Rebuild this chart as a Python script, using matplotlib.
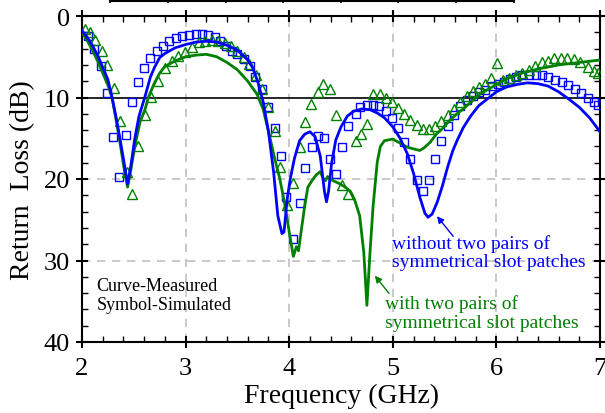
import matplotlib
matplotlib.use("Agg")
import matplotlib.pyplot as plt
from matplotlib.lines import Line2D
from matplotlib.ticker import MultipleLocator

plt.rcParams['font.family'] = ['Liberation Serif', 'DejaVu Serif']

# Measured (curves)
freq_meas_without = [2.00, 2.05, 2.10, 2.15, 2.20, 2.25, 2.29, 2.33, 2.37, 2.41, 2.44, 2.47, 2.51,
                     2.55, 2.61, 2.66, 2.70, 2.75, 2.80, 2.90, 3.00, 3.10, 3.20, 3.30, 3.40, 3.50,
                     3.60, 3.65, 3.70, 3.75, 3.80, 3.85, 3.89, 3.93, 3.95, 3.98, 4.01, 4.05, 4.10,
                     4.15, 4.20, 4.25, 4.30, 4.34, 4.36, 4.38, 4.41, 4.45, 4.50, 4.56, 4.62, 4.70,
                     4.78, 4.85, 4.92, 5.00, 5.07, 5.14, 5.20, 5.26, 5.31, 5.34, 5.38, 5.43, 5.48,
                     5.53, 5.58, 5.62, 5.68, 5.75, 5.83, 5.91, 6.00, 6.10, 6.20, 6.30, 6.40, 6.50,
                     6.60, 6.70, 6.80, 6.90, 7.00]
rl_meas_without = [1.8, 2.6, 3.6, 4.8, 6.3, 7.8, 10.0, 12.5, 15.3, 18.3, 20.6, 18.5, 15.0,
                   12.3, 9.8, 7.5, 6.3, 5.1, 4.6, 3.9, 3.5, 3.2, 3.1, 3.2, 3.6, 4.2,
                   5.4, 6.4, 8.2, 10.6, 14.2, 19.2, 24.5, 26.7, 26.5, 22.5, 20.0, 17.5, 15.3,
                   14.5, 14.2, 14.8, 17.2, 21.5, 22.8, 21.5, 18.0, 15.2, 13.6, 12.3, 11.7, 11.4,
                   11.5, 11.9, 12.5, 13.6, 15.0, 16.9, 19.3, 22.2, 24.2, 24.7, 24.3, 22.8, 20.8,
                   18.5, 16.5, 15.3, 13.7, 12.3, 11.0, 10.2, 9.3, 8.7, 8.4, 8.2, 8.3, 8.6,
                   9.3, 10.2, 11.2, 12.5, 14.2]

freq_meas_with = [2.00, 2.05, 2.10, 2.15, 2.20, 2.25, 2.29, 2.33, 2.37, 2.41, 2.44, 2.47, 2.51,
                  2.56, 2.61, 2.64, 2.70, 2.75, 2.80, 2.90, 3.00, 3.10, 3.20, 3.30, 3.40, 3.50,
                  3.60, 3.69, 3.75, 3.81, 3.86, 3.91, 3.96, 4.00, 4.04, 4.07, 4.09, 4.12, 4.15,
                  4.18, 4.22, 4.26, 4.30, 4.33, 4.35, 4.37, 4.39, 4.44, 4.49, 4.54, 4.59, 4.63,
                  4.68, 4.72, 4.75, 4.78, 4.81, 4.85, 4.88, 4.92, 5.00, 5.07, 5.14, 5.20, 5.26,
                  5.30, 5.36, 5.42, 5.48, 5.55, 5.62, 5.68, 5.76, 5.84, 5.92, 6.00, 6.10, 6.25,
                  6.40, 6.60, 6.80, 7.00]
rl_meas_with = [2.0, 3.0, 4.2, 5.5, 7.0, 8.5, 10.0, 12.8, 15.8, 19.0, 21.0, 19.0, 16.0,
                13.0, 11.4, 10.0, 8.2, 7.0, 6.2, 5.5, 5.0, 4.8, 4.7, 5.0, 5.7, 6.6,
                8.0, 9.6, 11.5, 14.7, 17.5, 20.0, 23.3, 26.5, 29.5, 28.3, 28.8, 26.0, 23.3,
                21.0, 20.2, 19.5, 19.1, 20.0, 20.2, 19.7, 20.0, 20.3, 20.6, 21.0, 21.5, 22.5,
                24.5, 29.0, 35.5, 29.0, 23.3, 17.9, 16.0, 15.3, 15.1, 15.6, 16.1, 16.3, 16.5,
                16.2, 15.5, 14.5, 13.8, 12.8, 12.0, 11.4, 10.5, 9.6, 9.0, 8.4, 7.7, 7.0,
                6.5, 6.0, 5.7, 5.4]

# Simulated (symbols)
freq_sim_without = [2.06, 2.12, 2.18, 2.24, 2.30, 2.36, 2.42, 2.48, 2.54, 2.60, 2.66, 2.72, 2.78,
                    2.84, 2.91, 2.97, 3.03, 3.10, 3.16, 3.22, 3.28, 3.33, 3.39, 3.45, 3.50, 3.56,
                    3.62, 3.67, 3.74, 3.80, 3.86, 3.92, 3.97, 4.04, 4.10, 4.15, 4.22, 4.28, 4.34,
                    4.39, 4.45, 4.51, 4.57, 4.64, 4.68, 4.75, 4.81, 4.87, 4.93, 4.99, 5.05, 5.11,
                    5.17, 5.23, 5.29, 5.35, 5.41, 5.47, 5.53, 5.59, 5.65, 5.72, 5.77, 5.83, 5.89,
                    5.96, 6.02, 6.07, 6.13, 6.19, 6.25, 6.31, 6.38, 6.44, 6.50, 6.57, 6.63, 6.69,
                    6.76, 6.82, 6.88, 6.94, 6.98]
rl_sim_without = [2.4, 4.0, 6.1, 9.5, 14.8, 19.8, 14.6, 10.6, 8.1, 6.4, 5.2, 4.3, 3.7,
                  3.1, 2.7, 2.4, 2.3, 2.2, 2.2, 2.3, 2.6, 3.1, 3.7, 4.3, 4.7, 5.3,
                  6.1, 7.5, 9.0, 11.2, 13.7, 17.2, 22.2, 27.4, 23.0, 18.7, 16.1, 14.7, 15.0,
                  17.5, 19.4, 16.1, 13.5, 12.0, 11.2, 10.9, 10.9, 11.1, 11.7, 12.5, 13.8, 15.4,
                  17.6, 20.1, 21.5, 20.1, 17.6, 15.3, 13.5, 12.1, 11.0, 10.3, 9.8, 9.3, 9.1,
                  8.6, 8.3, 8.1, 7.7, 7.5, 7.3, 7.2, 7.2, 7.3, 7.5, 7.8, 8.1, 8.5,
                  9.0, 9.5, 10.1, 10.6, 10.9]

freq_sim_with = [2.03, 2.08, 2.13, 2.19, 2.24, 2.31, 2.37, 2.43, 2.48, 2.54, 2.61, 2.67, 2.73,
                 2.80, 2.87, 2.93, 2.99, 3.06, 3.13, 3.19, 3.25, 3.31, 3.38, 3.44, 3.50, 3.56,
                 3.61, 3.68, 3.74, 3.80, 3.86, 3.91, 3.98, 4.04, 4.10, 4.15, 4.21, 4.28, 4.33,
                 4.39, 4.45, 4.51, 4.57, 4.64, 4.69, 4.75, 4.81, 4.88, 4.93, 4.99, 5.05, 5.11,
                 5.17, 5.23, 5.29, 5.35, 5.41, 5.47, 5.53, 5.59, 5.65, 5.72, 5.77, 5.83, 5.89,
                 5.95, 6.01, 6.06, 6.12, 6.19, 6.25, 6.31, 6.37, 6.44, 6.50, 6.56, 6.62, 6.68,
                 6.75, 6.81, 6.88, 6.94, 6.98]
rl_sim_with = [1.6, 2.0, 2.9, 4.3, 6.0, 8.8, 12.9, 19.2, 21.8, 15.9, 12.2, 9.9, 8.0,
               6.4, 5.5, 4.9, 4.4, 3.8, 3.2, 3.1, 3.0, 3.1, 3.3, 3.7, 4.3, 5.0,
               5.9, 7.2, 9.0, 11.2, 14.1, 18.5, 23.2, 20.5, 16.1, 13.0, 10.8, 9.3, 8.3,
               9.0, 12.1, 20.7, 21.8, 15.3, 14.5, 13.2, 9.6, 9.6, 10.0, 10.6, 11.3, 12.0,
               12.8, 13.4, 13.9, 13.9, 13.5, 12.9, 12.2, 11.4, 10.6, 9.8, 9.2, 8.7, 8.3,
               7.6, 5.8, 7.9, 7.6, 7.3, 7.0, 6.6, 6.1, 5.7, 5.5, 5.2, 5.1, 5.1,
               5.3, 5.7, 6.2, 6.8, 7.0]

x_ticks = [2, 3, 4, 5, 6, 7]
y_ticks = [0, 10, 20, 30, 40]

BLUE = '#0000ff'
GREEN = '#008000'

fig = plt.figure(figsize=(6.05, 4.14), dpi=100)
ax = fig.add_axes([82/605, 1-343/414, 518/605, 326/414])

# grid
for xv in [3, 4, 5, 6]:
    ax.axvline(xv, color='#c0c0c0', lw=1.2, ls=(0, (5, 4)), zorder=0)
for yv in [20, 30]:
    ax.axhline(yv, color='#c0c0c0', lw=1.2, ls=(0, (5, 4)), zorder=0)
ax.axhline(10, color='black', lw=1.2, zorder=1)

ax.plot(freq_sim_without, rl_sim_without, ls='none', marker='s', ms=5.4, mfc='none',
        mec=BLUE, mew=1.0, zorder=3)
ax.plot(freq_sim_with, rl_sim_with, ls='none', marker='^', ms=6.8, mfc='none',
        mec=GREEN, mew=1.0, zorder=3)
ax.plot(freq_meas_with, rl_meas_with, color=GREEN, lw=2.0, zorder=4)
ax.plot(freq_meas_without, rl_meas_without, color=BLUE, lw=2.0, zorder=5)

ax.set_xlim(2, 7)
ax.set_ylim(40, 0)
ax.set_xticks(x_ticks)
ax.set_yticks(y_ticks)
ax.xaxis.set_minor_locator(MultipleLocator(0.2))
ax.yaxis.set_minor_locator(MultipleLocator(2))
ax.tick_params(which='major', direction='inout', length=9, width=1.5, labelsize=19,
               top=True, right=True)
ax.tick_params(axis='x', which='major', pad=6)
ax.tick_params(axis='y', which='major', pad=4)
ax.tick_params(which='minor', direction='in', length=4, width=1.0, top=True, right=True)
for sp in ax.spines.values():
    sp.set_linewidth(1.5)

ax.set_xlabel('Frequency (GHz)', fontsize=20, labelpad=3)
ax.set_ylabel('Return  Loss (dB)', fontsize=20, labelpad=6)

ax.text(4.99, 29.0, 'without two pairs of\nsymmetrical slot patches', color=BLUE,
        fontsize=14, ha='left', va='center', linespacing=1.1)
ax.annotate('', xy=(5.41, 24.3), xytext=(5.60, 27.3),
            arrowprops=dict(arrowstyle='-|>', color=BLUE, lw=1.0, mutation_scale=10))
ax.text(4.92, 36.4, 'with two pairs of\nsymmetrical slot patches', color=GREEN,
        fontsize=14, ha='left', va='center', linespacing=1.1)
ax.annotate('', xy=(4.81, 31.6), xytext=(4.98, 34.3),
            arrowprops=dict(arrowstyle='-|>', color=GREEN, lw=1.0, mutation_scale=10))
ax.text(2.14, 34.2, 'Curve-Measured\nSymbol-Simulated', color='black',
        fontsize=13, ha='left', va='center', linespacing=1.15)

# cut-off table row at the very top of the image
W, H = 605, 414
fig.add_artist(Line2D([110/W, 514/W], [1-2/H, 1-2/H], color='black', lw=1.5,
                      transform=fig.transFigure))
for xp in [110, 168, 226, 283, 341, 398, 456, 514]:
    fig.add_artist(Line2D([xp/W, xp/W], [1-2.5/H, 1.0], color='black', lw=1.3,
                          transform=fig.transFigure))

fig.savefig('out.png', dpi=100)
